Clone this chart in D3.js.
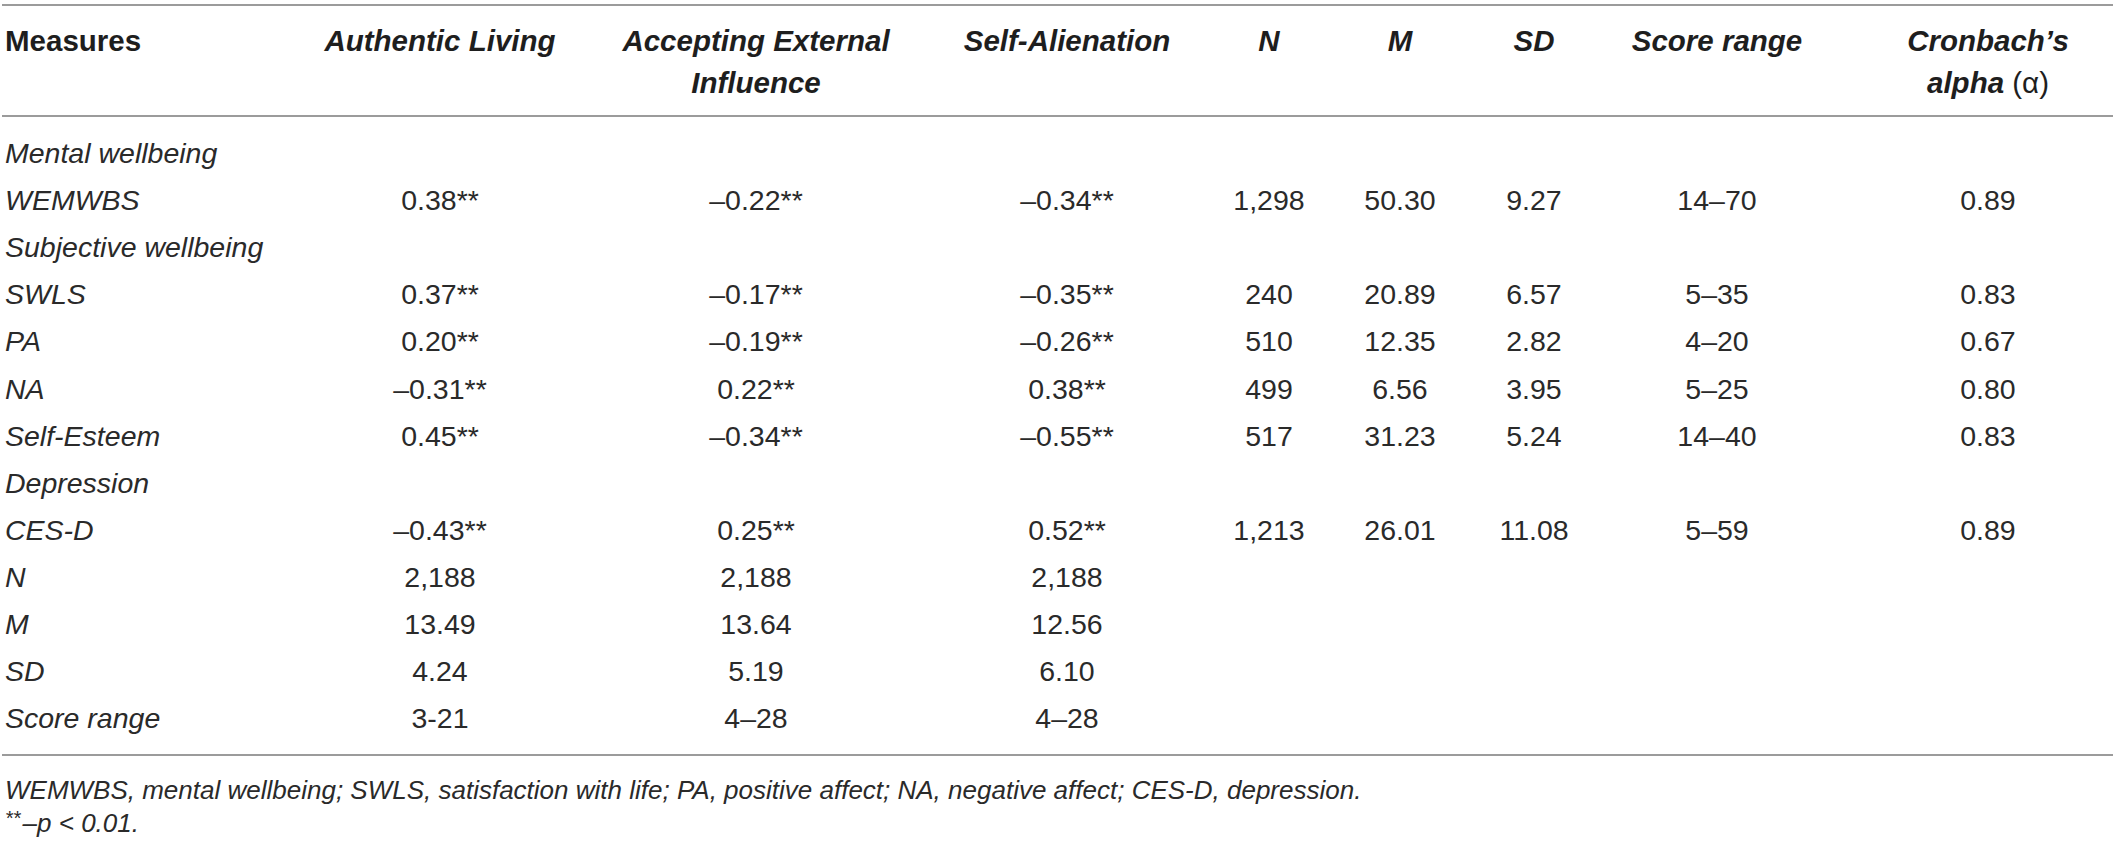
<!DOCTYPE html>
<html>
<head>
<meta charset="utf-8">
<script src="https://cdn.jsdelivr.net/npm/d3@7"></script>
<style>
  body { margin: 0; background: #fff; }
  svg text { font-family: "Liberation Sans", Arial, Helvetica, sans-serif; fill: #2a2a2a; }
</style>
</head>
<body>
<svg id="myTable" width="2117" height="841"></svg>
<script>
// row labels (first column)
var rowLabels = ["Mental wellbeing", "WEMWBS", "Subjective wellbeing", "SWLS", "PA", "NA",
                 "Self-Esteem", "Depression", "CES-D", "N", "M", "SD", "Score range"];

// column values, one array per column, same order as rowLabels
var authenticLiving   = ["", "0.38**", "", "0.37**", "0.20**", "–0.31**", "0.45**", "", "–0.43**", "2,188", "13.49", "4.24", "3-21"];
var acceptingExternal = ["", "–0.22**", "", "–0.17**", "–0.19**", "0.22**", "–0.34**", "", "0.25**", "2,188", "13.64", "5.19", "4–28"];
var selfAlienation    = ["", "–0.34**", "", "–0.35**", "–0.26**", "0.38**", "–0.55**", "", "0.52**", "2,188", "12.56", "6.10", "4–28"];
var nValues     = ["", "1,298", "", "240", "510", "499", "517", "", "1,213", "", "", "", ""];
var mValues     = ["", "50.30", "", "20.89", "12.35", "6.56", "31.23", "", "26.01", "", "", "", ""];
var sdValues    = ["", "9.27", "", "6.57", "2.82", "3.95", "5.24", "", "11.08", "", "", "", ""];
var scoreRange  = ["", "14–70", "", "5–35", "4–20", "5–25", "14–40", "", "5–59", "", "", "", ""];
var alphaValues = ["", "0.89", "", "0.83", "0.67", "0.80", "0.83", "", "0.89", "", "", "", ""];

// header labels (line breaks as separate strings)
var headerLabels = [["Measures"], ["Authentic Living"], ["Accepting External", "Influence"],
                    ["Self-Alienation"], ["N"], ["M"], ["SD"], ["Score range"], ["Cronbach’s", "alpha (α)"]];

var footnotes = ["WEMWBS, mental wellbeing; SWLS, satisfaction with life; PA, positive affect; NA, negative affect; CES-D, depression.",
                 "**–p < 0.01."];

var columns = [rowLabels, authenticLiving, acceptingExternal, selfAlienation,
               nValues, mValues, sdValues, scoreRange, alphaValues];

var svg = d3.select("#myTable");

// column centers (first column is left aligned)
var x = d3.scaleOrdinal()
    .domain(d3.range(columns.length))
    .range([5, 440, 756, 1067, 1269, 1400, 1534, 1717, 1988]);

// rows
var y = d3.scaleLinear()
    .domain([0, rowLabels.length - 1])
    .range([153, 718.5]);

var fontSize = 28.5;
var headSize = 29.5;

// rules
var rules = [5, 116, 755];
svg.selectAll("line.rule")
    .data(rules)
    .enter()
    .append("line")
    .attr("class", "rule")
    .attr("x1", 2)
    .attr("x2", 2113)
    .attr("y1", function(d) { return d; })
    .attr("y2", function(d) { return d; })
    .style("stroke", "#9b9b9b")
    .style("stroke-width", 2);

// header
var head = svg.selectAll("text.head")
    .data(headerLabels)
    .enter()
    .append("text")
    .attr("class", "head")
    .attr("text-anchor", function(d, i) { return i === 0 ? "start" : "middle"; })
    .style("font-size", headSize + "px")
    .style("font-weight", "bold")
    .style("fill", "#1e1e1e")
    .style("font-style", function(d, i) { return i === 0 ? "normal" : "italic"; });

head.each(function(lines, i) {
    var t = d3.select(this);
    lines.forEach(function(line, k) {
        var span = t.append("tspan")
            .attr("x", x(i))
            .attr("y", 41 + k * 42)
            .attr("dy", "0.35em");
        var m = line.match(/^(.*)(\(α\))$/);
        if (m) {
            span.text(m[1]);
            span.append("tspan").style("font-weight", "normal").style("font-style", "normal").text(m[2]);
        } else {
            span.text(line);
        }
    });
});

// body cells
columns.forEach(function(col, c) {
    svg.selectAll("text.col" + c)
        .data(col)
        .enter()
        .append("text")
        .attr("class", "col" + c)
        .attr("x", x(c))
        .attr("y", function(d, i) { return y(i); })
        .attr("dy", "0.35em")
        .attr("text-anchor", c === 0 ? "start" : "middle")
        .style("font-size", fontSize + "px")
        .style("font-style", c === 0 ? "italic" : "normal")
        .text(function(d) { return d; });
});

// footnotes
svg.append("text")
    .attr("x", 5)
    .attr("y", 790)
    .attr("dy", "0.35em")
    .style("font-size", "26px")
    .style("font-style", "italic")
    .text(footnotes[0]);

var fn2 = svg.append("text")
    .attr("x", 5)
    .attr("y", 823)
    .attr("dy", "0.35em")
    .style("font-size", "26px")
    .style("font-style", "italic");
fn2.append("tspan").attr("dy", "0.1em").style("font-size", "20px").text(footnotes[1].slice(0, 2));
fn2.append("tspan").attr("dx", "2").attr("dy", "0.25em").text(footnotes[1].slice(2));
</script>
</body>
</html>
